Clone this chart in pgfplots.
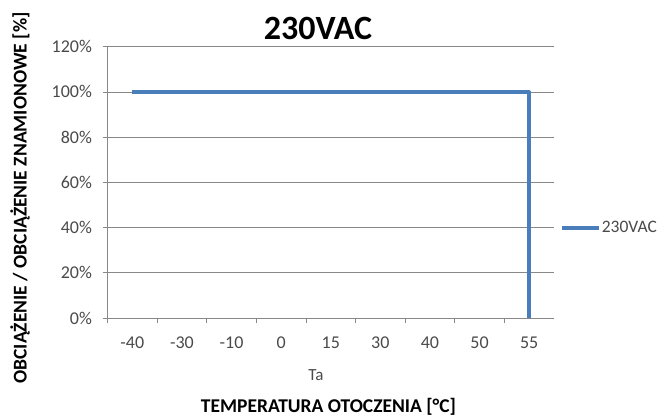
\documentclass[border=0pt]{standalone}
\usepackage{fontspec}
\setmainfont{Carlito}
\usepackage{pgfplots}
\pgfplotsset{compat=1.18}
\definecolor{serblue}{HTML}{4A7EBB}
\definecolor{gridgray}{HTML}{888888}
\definecolor{labgray}{HTML}{4A4A4A}
\begin{document}
\begin{tikzpicture}
\path[use as bounding box] (0,0) rectangle (662bp,417bp);
\begin{axis}[
  at={(107.5bp,99bp)}, anchor=south west,
  scale only axis, width=446.5bp, height=271.3bp,
  xmin=-0.5, xmax=8.5, ymin=0, ymax=120,
  axis x line*=bottom, axis y line*=left,
  axis line style={gridgray, line width=0.9pt, -},
  xtick={0,...,8},
  xticklabels={-40,-30,-10,0,15,30,40,50,55},
  major x tick style={draw=none},
  minor xtick={-0.5,0.5,...,7.5},
  minor x tick style={gridgray, line width=0.8pt},
  minor tick length=5bp,
  ytick={0,20,...,120},
  yticklabel={\pgfmathprintnumber{\tick}\%},
  y tick style={gridgray, line width=0.8pt},
  major tick length=5bp,
  tick align=outside,
  ymajorgrids,
  grid style={gridgray, line width=0.8pt},
  /pgf/number format/assume math mode=true,
  tick label style={font=\fontsize{18bp}{20bp}\selectfont, text=labgray},
  xticklabel style={yshift=-10bp},
  yticklabel style={xshift=-7bp},
  legend style={draw=none, fill=none, at={(1.0137,0.332)}, anchor=west,
    inner sep=0pt, font=\fontsize{17.5bp}{20bp}\selectfont, text=labgray,
    nodes={inner sep=1pt}},
  legend image code/.code={\draw[#1] (0bp,0bp) -- (37bp,0bp);},
  clip=false,
]
\addplot[serblue, line width=3.5bp, line join=round] table {
x y
0 100
1 100
2 100
3 100
4 100
5 100
6 100
7 100
8 100
8 0
};
\addlegendentry{230VAC}
\end{axis}
\node[font=\fontsize{34bp}{38bp}\selectfont\bfseries] at (318bp,389bp) {230VAC};
\node[font=\fontsize{19.5bp}{22bp}\selectfont\bfseries, rotate=90] at (20bp,219bp) {OBCIĄŻENIE / OBCIĄŻENIE ZNAMIONOWE [\%]};
\node[font=\fontsize{19.5bp}{22bp}\selectfont\bfseries] at (328.5bp,10.5bp) {TEMPERATURA OTOCZENIA [°C]};
\node[font=\fontsize{17bp}{20bp}\selectfont, text=labgray] at (316bp,42bp) {Ta};
\end{tikzpicture}
\end{document}
